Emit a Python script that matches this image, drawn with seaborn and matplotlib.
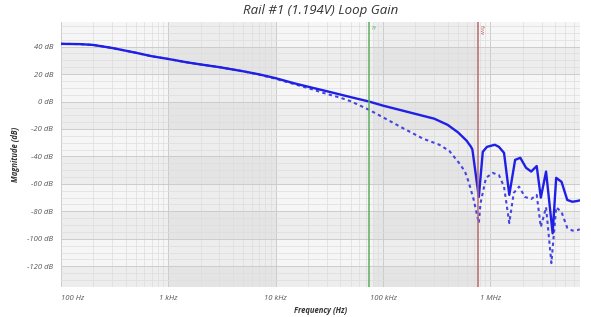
import matplotlib
matplotlib.use("Agg")
import matplotlib.pyplot as plt
from matplotlib import ticker
import seaborn as sns
import pandas as pd
import numpy as np

# loop gain magnitude
freq_solid = [100, 150, 200, 300, 500, 700, 1000, 1500, 2000, 3000, 5000, 7000,
              10000, 15000, 20000, 30000, 50000, 74000, 100000, 150000, 200000,
              300000, 400000, 500000, 600000, 660000, 680000, 780000, 850000, 930000,
              1.1e6, 1.2e6, 1.34e6, 1.5e6, 1.7e6, 1.9e6, 2.15e6, 2.4e6, 2.7e6,
              2.95e6, 3.3e6, 3.8e6, 4.1e6, 4.6e6, 5.2e6, 5.8e6, 6.5e6, 6.8e6]
gain_solid = [42, 41.8, 41.2, 39, 35.5, 33, 31, 28.5, 27, 25, 22, 19.8,
              17, 13.2, 10.8, 7.5, 3.2, 0, -3, -6.5, -9,
              -12.5, -17, -22.5, -28.5, -33, -35, -69.5, -36.6, -33,
              -31.5, -33, -37.4, -68, -42.5, -41, -48.3, -51, -47,
              -70, -51, -96, -55.6, -58.5, -71.7, -73, -72.4, -72]

freq_dash = [100, 150, 200, 300, 500, 700, 1000, 1500, 2000, 3000, 5000, 7000,
             10000, 15000, 20000, 30000, 40000, 50000, 74000, 100000, 150000,
             235000, 335000, 415000, 510000, 580000, 630000, 700000, 780000, 810000,
             910000, 1.05e6, 1.2e6, 1.34e6, 1.5e6, 1.65e6, 1.85e6, 2.1e6, 2.4e6,
             2.7e6, 2.95e6, 3.3e6, 3.7e6, 4.1e6, 4.6e6, 5.2e6, 5.8e6, 6.5e6, 6.8e6]
gain_dash = [42, 41.8, 41.2, 39, 35.5, 33, 31, 28.5, 27, 25, 22, 19.6,
             16.6, 12.6, 9.8, 5.5, 2.8, 0.2, -6, -11.5, -19,
             -27, -31.5, -36, -44.7, -51, -59, -71.7, -88.5, -74,
             -55.6, -52, -53.5, -62, -88.5, -66.6, -62, -69.5, -71,
             -68, -91.4, -77, -117.7, -77, -80.5, -92, -94, -93.6, -93]

marker_freqs = [74000, 760000]
marker_labels = ["fc", "fsw"]
marker_colors = ["#5fae5f", "#b86a6a"]

y_ticks = [40, 20, 0, -20, -40, -60, -80, -100, -120]
x_ticks = [100, 1e3, 1e4, 1e5, 1e6]
x_tick_labels = ["100 Hz", "1 kHz", "10 kHz", "100 kHz", "1 MHz"]

df = pd.concat([
    pd.DataFrame({"freq": freq_solid, "gain": gain_solid, "trace": "solid"}),
    pd.DataFrame({"freq": freq_dash, "gain": gain_dash, "trace": "dash"}),
])

sns.set_style("white")
plt.rcParams["font.family"] = ["Open Sans", "DejaVu Sans"]

fig = plt.figure(figsize=(5.91, 3.17), dpi=100)
ax = fig.add_axes([0.103, 0.095, 0.878, 0.836])

xmin, xmax = 100, 6.8e6
ymin, ymax = -135, 58
ax.set_facecolor("#f6f6f6")

# checkerboard shading
for lo in [20, -20, -60, -100, -140]:
    ax.axhspan(lo, lo + 20, color="black", alpha=0.035, lw=0, zorder=0)
for lo, hi in [(1e3, 1e4), (8e4, 7.6e5)]:
    ax.axvspan(lo, hi, color="black", alpha=0.035, lw=0, zorder=0)

sns.lineplot(data=df[df.trace == "solid"], x="freq", y="gain", ax=ax,
             color="#1f1fe6", lw=1.7, zorder=5, sort=False)
sns.lineplot(data=df[df.trace == "dash"], x="freq", y="gain", ax=ax,
             color="#4545e0", lw=1.5, ls=(0, (1.6, 1.6)), zorder=4, sort=False)

for f, lab, c in zip(marker_freqs, marker_labels, marker_colors):
    ax.axvline(f, color=c, lw=1.1, zorder=6)
    ax.text(f * 1.03, ymax - 2, lab, rotation=270, color=c, fontsize=4.5,
            ha="left", va="top", zorder=7)

ax.set_xscale("log")
ax.set_xlim(xmin, xmax)
ax.set_ylim(ymin, ymax)

ax.set_xticks(x_ticks)
ax.set_xticklabels(x_tick_labels)
ax.xaxis.set_minor_locator(ticker.LogLocator(base=10, subs=np.arange(2, 10)))
ax.xaxis.set_minor_formatter(ticker.NullFormatter())
ax.set_yticks(y_ticks)
ax.set_yticklabels([f"{v} dB" for v in y_ticks])
ax.yaxis.set_minor_locator(ticker.MultipleLocator(5))

ax.grid(which="major", color="#cccccc", lw=0.7, zorder=1)
ax.grid(which="minor", color="#dddddd", lw=0.5, zorder=1)
ax.set_axisbelow(True)

ax.tick_params(axis="both", which="major", labelsize=5.5, labelcolor="#555555",
               length=2.5, color="#bbbbbb", width=0.6, pad=3)
ax.tick_params(axis="both", which="minor", length=1.5, color="#cccccc")
for lab in ax.get_xticklabels() + ax.get_yticklabels():
    lab.set_fontstyle("italic")
ax.get_xticklabels()[0].set_ha("left")

for s in ax.spines.values():
    s.set_visible(False)

ax.set_xlabel("Frequency (Hz)", fontsize=5.5, fontweight="bold", fontstyle="italic",
              color="#333333", labelpad=3)
ax.set_ylabel("Magnitude (dB)", fontsize=5.5, fontweight="bold", fontstyle="italic",
              color="#333333", labelpad=5)
ax.set_title("Rail #1 (1.194V) Loop Gain", fontsize=9.5, fontstyle="italic",
             color="#333333", pad=6)

fig.savefig("out.png", dpi=100)
